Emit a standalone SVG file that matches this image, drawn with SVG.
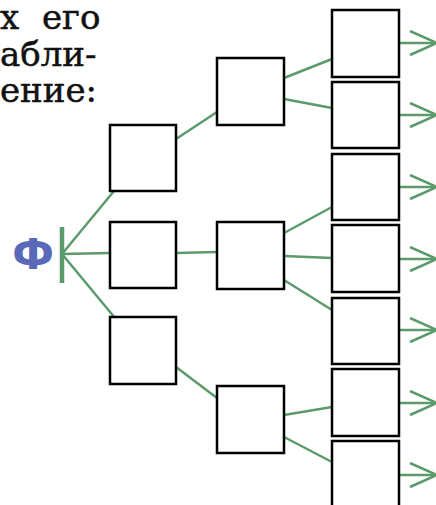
<svg xmlns="http://www.w3.org/2000/svg" width="436" height="505" viewBox="0 0 436 505">
<style>
.box{fill:#fff;stroke:#000;stroke-width:2.5}
.ln{stroke:#5b9b6b;stroke-width:2.5;fill:none;stroke-linecap:butt}
.txt{font-family:"DejaVu Serif",serif;font-size:34px;fill:#111;stroke:#111;stroke-width:0.5}
</style>
<defs>
<marker id="ah" markerUnits="userSpaceOnUse" markerWidth="32" markerHeight="30" refX="28" refY="13" orient="auto">
<path d="M1,1 L28,13 L1,25" fill="none" stroke="#5b9b6b" stroke-width="2.5"/>
</marker>
</defs>
<g id="text">
<text class="txt" y="29"><tspan x="0">х</tspan> <tspan x="42">его</tspan></text>
<text class="txt" x="0" y="66">абли-</text>
<text class="txt" x="0" y="102">ение:</text>
</g>
<g id="phi">
<text x="33" y="269" text-anchor="middle" font-family="DejaVu Sans,sans-serif" font-weight="bold" font-size="42" fill="#5a68b8">Ф</text>
<line x1="62" y1="227" x2="62" y2="283" stroke="#5b9b6b" stroke-width="4.5"/>
</g>
<g id="connectors">
<line class="ln" x1="62" y1="254" x2="114" y2="191"/>
<line class="ln" x1="62" y1="254" x2="110" y2="253"/>
<line class="ln" x1="62" y1="254" x2="115" y2="318"/>
<line class="ln" x1="176" y1="139" x2="217" y2="112"/>
<line class="ln" x1="176" y1="253" x2="217" y2="252"/>
<line class="ln" x1="176" y1="367" x2="217" y2="398"/>
<line class="ln" x1="284" y1="78" x2="332" y2="59"/>
<line class="ln" x1="284" y1="99" x2="332" y2="108"/>
<line class="ln" x1="284" y1="233" x2="332" y2="207"/>
<line class="ln" x1="284" y1="256" x2="332" y2="258"/>
<line class="ln" x1="284" y1="280" x2="332" y2="310"/>
<line class="ln" x1="284" y1="415" x2="332" y2="407"/>
<line class="ln" x1="284" y1="437" x2="332" y2="462"/>
<line class="ln" x1="399" y1="43" x2="437" y2="43" marker-end="url(#ah)"/>
<line class="ln" x1="399" y1="115" x2="437" y2="115" marker-end="url(#ah)"/>
<line class="ln" x1="399" y1="187" x2="437" y2="187" marker-end="url(#ah)"/>
<line class="ln" x1="399" y1="259" x2="437" y2="259" marker-end="url(#ah)"/>
<line class="ln" x1="399" y1="330" x2="437" y2="330" marker-end="url(#ah)"/>
<line class="ln" x1="399" y1="403" x2="437" y2="403" marker-end="url(#ah)"/>
<line class="ln" x1="399" y1="475" x2="437" y2="475" marker-end="url(#ah)"/>
</g>
<g id="L1"><rect class="box" x="110" y="125" width="66" height="66"/></g>
<g id="L2"><rect class="box" x="110" y="222" width="66" height="66"/></g>
<g id="L3"><rect class="box" x="110" y="317" width="66" height="67"/></g>
<g id="M1"><rect class="box" x="217" y="58" width="67" height="67"/></g>
<g id="M2"><rect class="box" x="217" y="222" width="67" height="67"/></g>
<g id="M3"><rect class="box" x="217" y="386" width="67" height="67"/></g>
<g id="R1"><rect class="box" x="332" y="10" width="67" height="67"/></g>
<g id="R2"><rect class="box" x="332" y="82" width="67" height="66"/></g>
<g id="R3"><rect class="box" x="332" y="154" width="67" height="66"/></g>
<g id="R4"><rect class="box" x="332" y="225" width="67" height="67"/></g>
<g id="R5"><rect class="box" x="332" y="298" width="67" height="66"/></g>
<g id="R6"><rect class="box" x="332" y="369" width="67" height="67"/></g>
<g id="R7"><rect class="box" x="332" y="441" width="67" height="67"/></g>
</svg>
